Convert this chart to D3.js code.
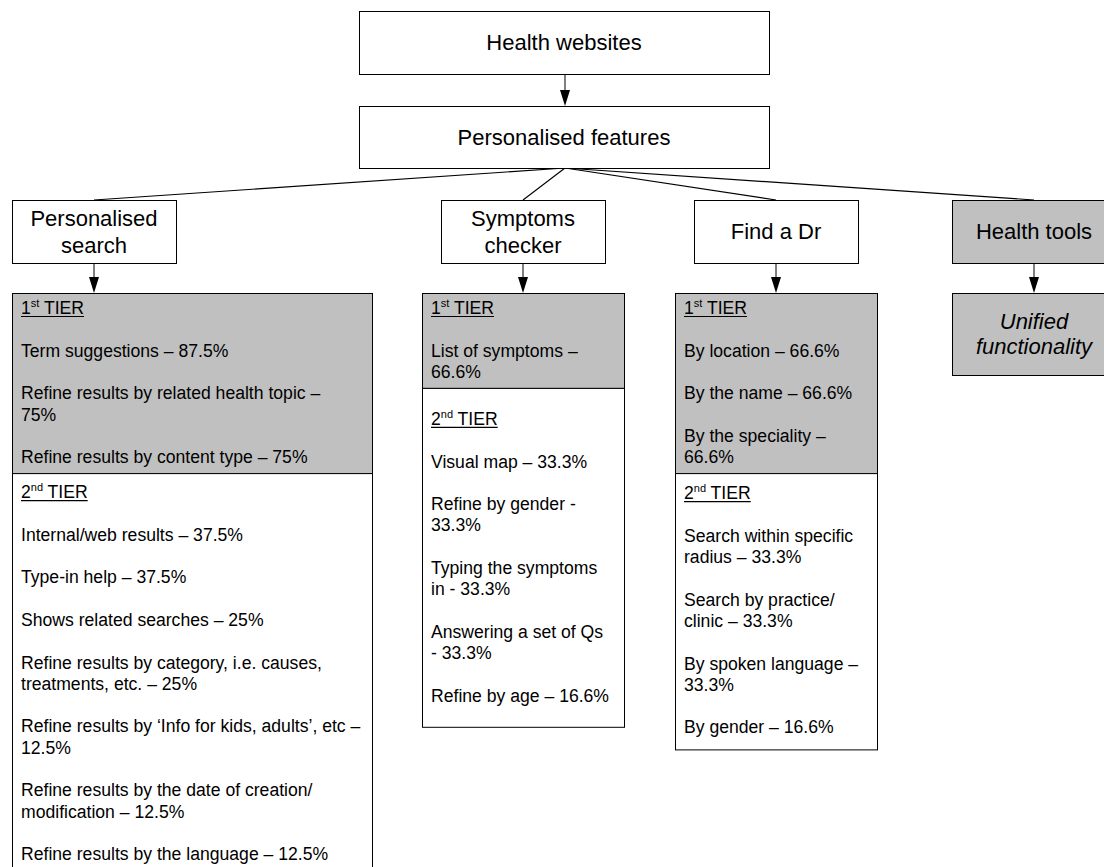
<!DOCTYPE html>
<html>
<head>
<meta charset="utf-8">
<script src="https://cdn.jsdelivr.net/npm/d3@7"></script>
<style>
  body { margin: 0; background: #fff; }
  text { font-family: "Liberation Sans", Arial, sans-serif; fill: #000; }
</style>
</head>
<body>
<script>
// chart text
var rootLabel = "Health websites";
var hubLabel = "Personalised features";
var featureLabels = [["Personalised", "search"], ["Symptoms", "checker"], ["Find a Dr"], ["Health tools"]];
var tierHeads = [["1", "st"], ["2", "nd"]];
var toolsNote = ["Unified", "functionality"];

// items per column, each item is the wrapped lines as printed
var tier1Items = [
  [["Term suggestions \u2013 87.5%"],
   ["Refine results by related health topic \u2013", "75%"],
   ["Refine results by content type \u2013 75%"]],
  [["List of symptoms \u2013", "66.6%"]],
  [["By location \u2013 66.6%"],
   ["By the name \u2013 66.6%"],
   ["By the speciality \u2013", "66.6%"]]
];
var tier2Items = [
  [["Internal/web results \u2013 37.5%"],
   ["Type-in help \u2013 37.5%"],
   ["Shows related searches \u2013 25%"],
   ["Refine results by category, i.e. causes,", "treatments, etc. \u2013 25%"],
   ["Refine results by \u2018Info for kids, adults\u2019, etc \u2013", "12.5%"],
   ["Refine results by the date of creation/", "modification \u2013 12.5%"],
   ["Refine results by the language \u2013 12.5%"]],
  [["Visual map \u2013 33.3%"],
   ["Refine by gender -", "33.3%"],
   ["Typing the symptoms", "in - 33.3%"],
   ["Answering a set of Qs", "- 33.3%"],
   ["Refine by age \u2013 16.6%"]],
  [["Search within specific", "radius \u2013 33.3%"],
   ["Search by practice/", "clinic \u2013 33.3%"],
   ["By spoken language \u2013", "33.3%"],
   ["By gender \u2013 16.6%"]]
];

drawChart();

function drawChart() {
  var width = 1104,
      height = 867;

  var svg = d3.select("body")
        .append("svg")
        .attr("width", width)
        .attr("height", height);

  // layout
  var grey = "#c0c0c0";
  var titleSize = 22, bodySize = 17.6;
  var rowTop = d3.scaleOrdinal().domain(["root", "hub", "feature", "detail"]).range([11, 106, 200, 293]);
  var rowH = d3.scaleOrdinal().domain(["root", "hub", "feature"]).range([63, 62, 63]);
  var topX = 359, topW = 410;
  var featX = d3.scaleOrdinal().domain([0, 1, 2, 3]).range([12, 441, 694, 952]);
  var featW = 164;
  var detX = d3.scaleOrdinal().domain([0, 1, 2]).range([12, 422, 675]);
  var detW = d3.scaleOrdinal().domain([0, 1, 2]).range([360, 202, 202]);
  var lineY = d3.scaleLinear().domain([0, 1]).range([0, 21.3]);
  var whiteLead = [25, 37, 26], whitePad = [40, 25, 16];

  var lines = svg.append("g");
  var boxes = svg.append("g");
  var labels = svg.append("g");

  function box(x, y, w, h, fill) {
    boxes.append("rect")
      .attr("x", x + 0.5).attr("y", y + 0.5)
      .attr("width", w).attr("height", h)
      .attr("fill", fill)
      .attr("stroke", "#000")
      .attr("stroke-width", 1);
  }

  function centred(lns, cx, cy, pitch, italic) {
    var t = labels.append("text")
      .attr("text-anchor", "middle")
      .attr("font-size", titleSize)
      .attr("font-style", italic ? "italic" : null);
    lns.forEach(function(s, i) {
      t.append("tspan")
        .attr("x", cx)
        .attr("y", cy + (i - (lns.length - 1) / 2) * pitch + titleSize * 0.36)
        .text(s);
    });
  }

  function arrow(x, y1, y2) {
    lines.append("line")
      .attr("x1", x).attr("x2", x)
      .attr("y1", y1).attr("y2", y2 - 14)
      .attr("stroke", "#000").attr("stroke-width", 1);
    lines.append("path")
      .attr("d", "M" + (x - 5) + "," + (y2 - 16) + "L" + (x + 5) + "," + (y2 - 16) + "L" + x + "," + y2 + "Z")
      .attr("fill", "#000");
  }

  // root and hub
  box(topX, rowTop("root"), topW, rowH("root"), "#fff");
  centred([rootLabel], topX + topW / 2, rowTop("root") + rowH("root") / 2, 0);
  box(topX, rowTop("hub"), topW, rowH("hub"), "#fff");
  centred([hubLabel], topX + topW / 2, rowTop("hub") + rowH("hub") / 2, 0);
  var hubX = topX + topW / 2 + 1, hubBottom = rowTop("hub") + rowH("hub");
  arrow(hubX, rowTop("root") + rowH("root"), rowTop("hub"));

  // feature boxes
  featureLabels.forEach(function(lab, i) {
    var cx = featX(i) + featW / 2;
    lines.append("line")
      .attr("x1", hubX).attr("y1", hubBottom)
      .attr("x2", cx).attr("y2", rowTop("feature"))
      .attr("stroke", "#000").attr("stroke-width", 1.2);
    box(featX(i), rowTop("feature"), featW, rowH("feature"), i === 3 ? grey : "#fff");
    centred(lab, cx, rowTop("feature") + rowH("feature") / 2, 27);
    arrow(cx, rowTop("feature") + rowH("feature"), rowTop("detail"));
  });

  // tools note
  var nx = featX(3);
  box(nx, rowTop("detail"), featW, 82, grey);
  centred(toolsNote, nx + featW / 2, rowTop("detail") + 41, 25, true);

  // detail columns
  function section(x, base, head, items) {
    var tx = x + 9;
    var h = labels.append("text").attr("x", tx).attr("y", base).attr("font-size", bodySize);
    h.append("tspan").text(head[0]);
    h.append("tspan").attr("font-size", 11).attr("dy", -7).text(head[1]);
    h.append("tspan").attr("dy", 7).text(" TIER");
    var len = h.node().getComputedTextLength();
    labels.append("line")
      .attr("x1", tx).attr("x2", tx + len)
      .attr("y1", base + 2.5).attr("y2", base + 2.5)
      .attr("stroke", "#000").attr("stroke-width", 1.2);
    var k = 2, last = 0;
    items.forEach(function(p) {
      p.forEach(function(s, j) {
        labels.append("text")
          .attr("x", tx)
          .attr("y", base + lineY(k + j))
          .attr("font-size", bodySize)
          .text(s);
        last = k + j;
      });
      k += p.length + 1;
    });
    return base + lineY(last);
  }

  tier1Items.forEach(function(items, c) {
    var top = rowTop("detail");
    var greyRect = boxes.append("rect");
    var whiteRect = boxes.append("rect");
    var greyEnd = section(detX(c), top + 21, tierHeads[0], items) + 10;
    var whiteLast = section(detX(c), greyEnd + whiteLead[c], tierHeads[1], tier2Items[c]);
    var bottom = whiteLast + whitePad[c];
    greyRect.attr("x", detX(c) + 0.5).attr("y", top + 0.5)
      .attr("width", detW(c)).attr("height", greyEnd - top)
      .attr("fill", grey).attr("stroke", "#000");
    whiteRect.attr("x", detX(c) + 0.5).attr("y", greyEnd + 0.5)
      .attr("width", detW(c)).attr("height", bottom - greyEnd)
      .attr("fill", "#fff").attr("stroke", "#000");
  });
}
</script>
</body>
</html>
